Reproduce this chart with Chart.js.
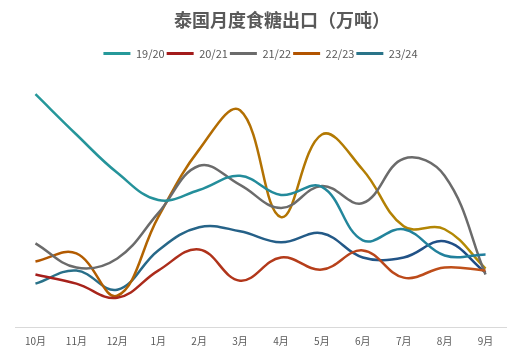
<!DOCTYPE html>
<html>
<head>
<meta charset="utf-8">
<script src="https://cdn.jsdelivr.net/npm/chart.js@4.4.1/dist/chart.umd.min.js"></script>
<style>
html,body{margin:0;padding:0;background:#fff;}
#wrap{width:522px;height:359px;}
</style>
</head>
<body>
<div id="wrap"><canvas id="sugarChart"></canvas></div>
<script>
// 月份
var months = ['10月','11月','12月','1月','2月','3月','4月','5月','6月','7月','8月','9月'];
var seasons = ['19/20','20/21','21/22','22/23','23/24'];
var titleText = '泰国月度食糖出口（万吨）';

// 出口量（万吨，估读）
var s1920 = [231,191,153,126,136,150,131,139,86,97,71,72];
var s2021 = [52,43,29,56,77,46,69,57,76,49,59,56];
var s2122 = [83,59,68,113,160,141,118,140,123,167,150,52];
var s2223 = [65,73,31,109,176,215,109,191,156,100,97,58];
var s2324 = [43,56,37,76,99,95,84,93,69,69,85,54];

// 渐变色 起点/终点
var colStart = ['#26999a','#a31b1b','#6b6b6b','#b25400','#2a7489'];
var colEnd   = ['#217d9c','#c2561a','#6b6b6b','#b38f05','#1f4a86'];

function grad(i){
	return function(ctx){
		var chart = ctx.chart;
		var area = chart.chartArea;
		if(!area) return colStart[i];
		var g = chart.ctx.createLinearGradient(area.left,0,area.right,0);
		g.addColorStop(0,colStart[i]);
		g.addColorStop(1,colEnd[i]);
		return g;
	};
}

// 标题略偏右，自己画
var titlePlugin = {
	id: 'offTitle',
	afterDraw: function(chart){
		var c = chart.ctx;
		c.save();
		c.fillStyle = '#595959';
		c.font = 'bold 18px "Noto Sans CJK SC", sans-serif';
		c.textAlign = 'center';
		c.textBaseline = 'middle';
		c.fillText(titleText, 282, 20);
		c.restore();
	}
};

var allData = [s1920,s2021,s2122,s2223,s2324];
var datasets = [];
for(var i=0;i<seasons.length;i++){
	datasets.push({
		label: seasons[i],
		data: allData[i],
		borderColor: grad(i),
		backgroundColor: colStart[i],
		borderWidth: 2.5,
		pointRadius: 0,
		tension: 0.4,
		fill: false
	});
}

var ctx = document.getElementById('sugarChart');
var chart = new Chart(ctx, {
	type: 'line',
	data: {labels: months, datasets: datasets},
	plugins: [titlePlugin],
	options: {
		responsive: true,
		maintainAspectRatio: false,
		animation: false,
		layout: {padding: {left: 15, right: 16, top: 46, bottom: 4}},
		plugins: {
			legend: {
				position: 'top',
				labels: {
					color: '#595959',
					font: {family: '"Noto Sans CJK SC", sans-serif', size: 11},
					boxWidth: 27,
					boxHeight: 3,
					padding: 2,
					generateLabels: function(c){
						return c.data.datasets.map(function(d,k){
							return {text: d.label, fillStyle: colStart[k], strokeStyle: colStart[k], lineWidth: 0, datasetIndex: k, fontColor: '#595959'};
						});
					}
				}
			},
			tooltip: {enabled: false}
		},
		scales: {
			x: {
				offset: true,
				grid: {display: false, drawTicks: false},
				border: {color: '#d9d9d9', width: 1},
				ticks: {color: '#595959', font: {family: '"Noto Sans CJK SC", sans-serif', size: 10}, padding: 8, maxRotation: 0}
			},
			y: {
				display: false,
				min: 0,
				max: 256
			}
		}
	}
});
</script>
</body>
</html>
